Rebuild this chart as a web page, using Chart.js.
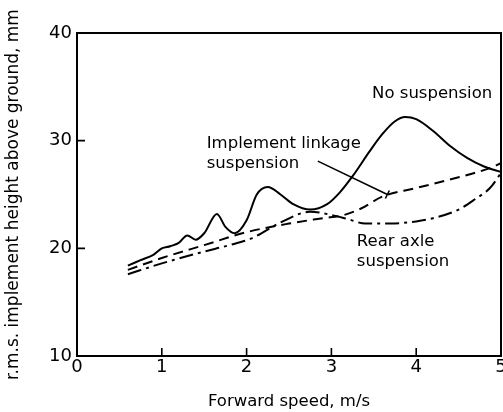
<!DOCTYPE html>
<html>
<head>
<meta charset="utf-8">
<script src="https://cdn.jsdelivr.net/npm/chart.js@4"></script>
<style>
  html, body { margin: 0; padding: 0; background: #fff; overflow: hidden; }
  #wrap { width: 520px; height: 412px; }
</style>
</head>
<body>
<div id="wrap"><canvas id="speedChart" width="520" height="412"></canvas></div>
<script>
// forward speed (m/s) vs r.m.s. implement height (mm)
const noSuspX = [0.6, 0.75, 0.9, 1.0, 1.1, 1.2, 1.3, 1.4, 1.5, 1.65, 1.75, 1.86, 2.0, 2.12, 2.25, 2.4, 2.55, 2.75, 2.95, 3.1, 3.25, 3.45, 3.6, 3.75, 3.87, 4.0, 4.2, 4.4, 4.6, 4.8, 5.0];
const noSuspY = [18.4, 18.9, 19.4, 20.0, 20.2, 20.5, 21.2, 20.8, 21.4, 23.2, 22.0, 21.4, 22.6, 25.0, 25.7, 25.0, 24.1, 23.6, 24.1, 25.2, 26.7, 29.0, 30.6, 31.8, 32.2, 32.0, 30.9, 29.5, 28.4, 27.6, 27.1];

const linkageX = [0.6, 1.0, 1.5, 2.0, 2.5, 2.9, 3.15, 3.35, 3.6, 4.0, 4.5, 4.85, 5.0];
const linkageY = [18.0, 19.1, 20.3, 21.5, 22.3, 22.8, 23.1, 23.7, 24.8, 25.6, 26.6, 27.4, 27.9];

const rearAxleX = [0.6, 1.0, 1.5, 1.8, 2.05, 2.4, 2.75, 3.0, 3.2, 3.4, 3.7, 4.0, 4.2, 4.5, 4.7, 4.87, 5.0];
const rearAxleY = [17.6, 18.6, 19.7, 20.3, 20.9, 22.4, 23.4, 23.1, 22.7, 22.3, 22.3, 22.5, 22.8, 23.6, 24.6, 25.6, 27.0];

const xTicks = [0, 1, 2, 3, 4, 5];
const yTicks = [10, 20, 30, 40];

const yTitle = "r.m.s. implement height above ground, mm";
const xTitle = "Forward speed, m/s";

// curve labels, anchored in data units (x, y)
const notes = [
  { text: "No suspension", x: 3.48, y: 34.35 },
  { text: "Implement linkage", x: 1.53, y: 29.7 },
  { text: "suspension", x: 1.53, y: 27.9 },
  { text: "Rear axle", x: 3.3, y: 20.6 },
  { text: "suspension", x: 3.3, y: 18.75 }
];
const leader = { x1: 2.84, y1: 28.1, x2: 3.66, y2: 25.0 };

function toPoints(xs, ys) {
  return xs.map((x, i) => ({ x: x, y: ys[i] }));
}

const FONT = "'DejaVu Sans', sans-serif";

const framePlugin = {
  id: "frame",
  afterDraw(chart) {
    const ctx = chart.ctx;
    const a = chart.chartArea;
    const xs = chart.scales.x;
    const ys = chart.scales.y;
    ctx.save();
    ctx.strokeStyle = "#000";
    ctx.lineWidth = 2;
    ctx.strokeRect(a.left, a.top, a.right - a.left, a.bottom - a.top);

    // inward tick marks
    ctx.lineWidth = 1.6;
    ctx.beginPath();
    xTicks.slice(1, -1).forEach((v) => {
      const px = xs.getPixelForValue(v);
      ctx.moveTo(px, a.bottom);
      ctx.lineTo(px, a.bottom - 8);
    });
    yTicks.slice(1, -1).forEach((v) => {
      const py = ys.getPixelForValue(v);
      ctx.moveTo(a.left, py);
      ctx.lineTo(a.left + 8, py);
    });
    ctx.stroke();

    // text labels for curves
    ctx.fillStyle = "#000";
    ctx.font = "16.5px " + FONT;
    ctx.textBaseline = "middle";
    ctx.textAlign = "left";
    notes.forEach((n) => {
      ctx.fillText(n.text, xs.getPixelForValue(n.x), ys.getPixelForValue(n.y));
    });

    // leader line
    const lx1 = xs.getPixelForValue(leader.x1);
    const ly1 = ys.getPixelForValue(leader.y1);
    const lx2 = xs.getPixelForValue(leader.x2);
    const ly2 = ys.getPixelForValue(leader.y2);
    ctx.lineWidth = 1.6;
    ctx.beginPath();
    ctx.moveTo(lx1, ly1);
    ctx.lineTo(lx2, ly2);
    ctx.moveTo(lx2 - 2, ly2 + 4);
    ctx.lineTo(lx2 + 2, ly2 - 4);
    ctx.stroke();
    ctx.restore();
  }
};

const ctx = document.getElementById("speedChart").getContext("2d");
new Chart(ctx, {
  type: "scatter",
  data: {
    datasets: [
      {
        label: "No suspension",
        data: toPoints(noSuspX, noSuspY),
        showLine: true,
        borderColor: "#000",
        borderWidth: 2,
        pointRadius: 0,
        cubicInterpolationMode: "monotone"
      },
      {
        label: "Implement linkage suspension",
        data: toPoints(linkageX, linkageY),
        showLine: true,
        borderColor: "#000",
        borderWidth: 2,
        borderDash: [10, 6],
        pointRadius: 0,
        cubicInterpolationMode: "monotone"
      },
      {
        label: "Rear axle suspension",
        data: toPoints(rearAxleX, rearAxleY),
        showLine: true,
        borderColor: "#000",
        borderWidth: 2,
        borderDash: [14, 5, 3, 5],
        pointRadius: 0,
        cubicInterpolationMode: "monotone"
      }
    ]
  },
  options: {
    responsive: false,
    animation: false,
    devicePixelRatio: 1,
    layout: { padding: { top: 33, right: 19, left: 0, bottom: 0 } },
    plugins: {
      legend: { display: false },
      tooltip: { enabled: false }
    },
    scales: {
      x: {
        type: "linear",
        min: 0,
        max: 5,
        afterBuildTicks: (s) => { s.ticks = xTicks.map((v) => ({ value: v })); },
        afterFit: (s) => { s.height = 56; },
        grid: { drawOnChartArea: false, drawTicks: false },
        border: { color: "#000", width: 2 },
        ticks: { color: "#000", padding: 1, font: { family: FONT, size: 18 } },
        title: {
          display: true,
          text: xTitle,
          color: "#000",
          padding: { top: 8, bottom: 0 },
          font: { family: FONT, size: 16.5 }
        }
      },
      y: {
        type: "linear",
        min: 10,
        max: 40,
        afterBuildTicks: (s) => { s.ticks = yTicks.map((v) => ({ value: v })); },
        afterFit: (s) => { s.width = 77; },
        grid: { drawOnChartArea: false, drawTicks: false },
        border: { color: "#000", width: 2 },
        ticks: { color: "#000", padding: 5, font: { family: FONT, size: 18 } },
        title: {
          display: true,
          text: yTitle,
          color: "#000",
          padding: { top: 3, bottom: 0 },
          font: { family: FONT, size: 17 }
        }
      }
    }
  },
  plugins: [framePlugin]
});
</script>
</body>
</html>
